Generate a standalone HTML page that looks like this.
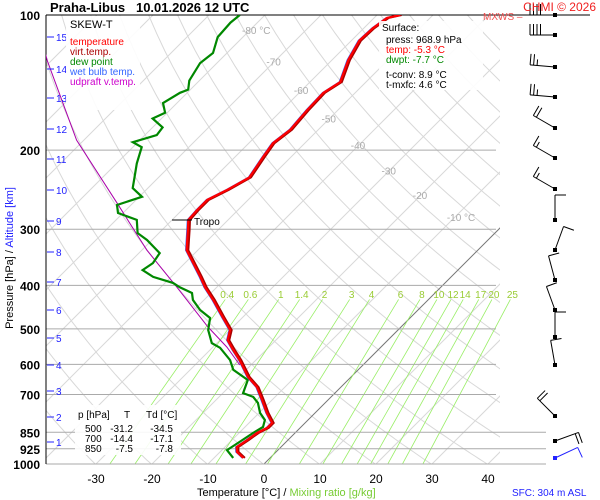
<!DOCTYPE html>
<html><head><meta charset="utf-8">
<style>
body{margin:0;background:#fff;}
svg{display:block;font-family:"Liberation Sans",Arial,sans-serif;}
</style></head>
<body>
<svg id="chart" width="600" height="500" viewBox="0 0 600 500">
<defs>
<clipPath id="plotclip"><rect x="46" y="15" width="454" height="449"/></clipPath>
<clipPath id="mixclip"><rect x="46" y="298" width="480" height="166"/></clipPath>
</defs>
<rect width="600" height="500" fill="#fff"/>
<g id="grid" clip-path="url(#plotclip)"></g>
<g id="mix" clip-path="url(#mixclip)"></g>
<g id="plines"></g>
<g id="series" clip-path="url(#plotclip)"></g>
<g id="labels"></g>
<g id="barbs"></g>

<text x="50" y="12" font-size="13" font-weight="bold">Praha-Libus &#160;&#160;10.01.2026 12 UTC</text>
<text x="596" y="11" font-size="12" fill="#f02020" text-anchor="end">CHMI © 2026</text>
<text x="483" y="20" font-size="10" fill="#f05050">MXWS –</text>

<g>
<rect x="66" y="16" width="74" height="94" fill="#fff" opacity="0.9"/>
<text x="70" y="28" font-size="11">SKEW-T</text>
<text x="70" y="45" font-size="10" fill="#f00">temperature</text>
<text x="70" y="55" font-size="10" fill="#a00">virt.temp.</text>
<text x="70" y="65" font-size="10" fill="#080">dew point</text>
<text x="70" y="75" font-size="10" fill="#3366ff">wet bulb temp.</text>
<text x="70" y="85" font-size="10" fill="#c0c">udpraft v.temp.</text>
</g>

<g>
<rect x="379" y="21" width="104" height="69" fill="#fff" opacity="0.9"/>
<text x="382" y="31" font-size="10">Surface:</text>
<text x="386" y="43" font-size="10">press: 968.9 hPa</text>
<text x="386" y="53" font-size="10" fill="#f00">temp: -5.3 °C</text>
<text x="386" y="63" font-size="10" fill="#080">dwpt: -7.7 °C</text>
<text x="386" y="78" font-size="10">t-conv: 8.9 °C</text>
<text x="386" y="88" font-size="10">t-mxfc: 4.6 °C</text>
</g>

<g>
<rect x="75" y="405" width="106" height="50" fill="#fff" opacity="0.9"/>
<text x="78" y="418" font-size="10">p [hPa]</text><text x="124" y="418" font-size="10">T</text><text x="146" y="418" font-size="10">Td [°C]</text>
<text x="85" y="432" font-size="10">500</text><text x="133" y="432" font-size="10" text-anchor="end">-31.2</text><text x="173" y="432" font-size="10" text-anchor="end">-34.5</text>
<text x="85" y="442" font-size="10">700</text><text x="133" y="442" font-size="10" text-anchor="end">-14.4</text><text x="173" y="442" font-size="10" text-anchor="end">-17.1</text>
<text x="85" y="452" font-size="10">850</text><text x="133" y="452" font-size="10" text-anchor="end">-7.5</text><text x="173" y="452" font-size="10" text-anchor="end">-7.8</text>
</g>

<line x1="172" y1="220" x2="192" y2="220" stroke="#000" stroke-width="1"/>
<text x="194" y="225" font-size="10">Tropo</text>

<g transform="translate(13,258) rotate(-90)">
<text x="0" y="0" font-size="11" text-anchor="middle"><tspan fill="#000">Pressure [hPa]</tspan><tspan fill="#000">  /  </tspan><tspan fill="#22f">Altitude [km]</tspan></text>
</g>
<text x="197" y="496" font-size="11"><tspan>Temperature [°C]  /  </tspan><tspan fill="#7c3">Mixing ratio [g/kg]</tspan></text>
<text x="512" y="496" font-size="10" fill="#22f">SFC: 304 m ASL</text>
</svg>
<script>
const pressureLevels=[100,200,300,400,500,600,700,850,925,1000];
const tempTicks=[-30,-20,-10,0,10,20,30,40];
const isoLabels=[-80,-70,-60,-50,-40,-30,-20,-10];
const altKm=[15,14,13,12,11,10,9,8,7,6,5,4,3,2,1];
const altY=[37,69,98,129,159,190,221,252,282,310,338,365,391,417,442];
const mixRatios=[0.4,0.6,1,1.4,2,3,4,6,8,10,12,14,17,20,25];
const tempP=[969,940,917,884,853,831,810,770,720,674,640,587,557,530,503,471,431,404,383,334,301,286,272,258,245,230,207,193,180,163,149,141,126,114,107,101.5,100];
const tempT=[-4.8,-7.0,-7.9,-7.3,-6.8,-5.9,-5.9,-8.6,-11.8,-15.0,-18.4,-22.9,-25.9,-28.6,-30.0,-33.6,-38.4,-42.1,-44.8,-52.0,-55.4,-57.1,-57.3,-57.3,-55.5,-53.8,-55.0,-55.7,-55.0,-55.5,-55.7,-54.6,-57.1,-58.6,-58.4,-57.7,-55.9];
const dewP=[969,931,898,853,827,798,770,731,709,695,650,617,587,551,538,503,473,454,431,416,404,395,383,370,357,339,317,306,286,276,265,254,243,230,214,197,192,185,178,170,165,157,149,146.6,140,128,121.5,112,104,100];
const dewT=[-6.6,-9.1,-8.4,-7.5,-6.8,-7.7,-9.8,-12.0,-13.9,-16.4,-17.9,-22.3,-24.6,-28.6,-30.9,-33.9,-35.7,-38.9,-42.0,-43.4,-46.6,-48.6,-53.2,-56.3,-55.7,-56.3,-60.9,-63.8,-66.3,-70.9,-72.5,-69.5,-72.7,-74.3,-76.4,-78.4,-80.9,-77.9,-78.2,-81.6,-80.4,-82.5,-81.3,-80.4,-81.8,-83.0,-82.5,-84.5,-84.8,-84.5];
const updP=[120,127,190,262,334,404,495,549,602];
const updT=[-113,-110.5,-91.3,-72.9,-59.1,-47.1,-34.5,-27.5,-22.0];
const barbY=[15,35,67,97,128,158,189,220,250,280,310,337,365,416,441,458];
const barbDir=[270,270,275,275,300,300,300,360,20,345,340,360,350,315,70,65];
const barbKt=[40,40,25,25,20,15,15,10,10,10,10,10,10,20,20,10];

const NS="http://www.w3.org/2000/svg";
function yP(p){return 464-449*Math.log10(1000/p);}
function xT(T,p){return 264+5.6*T+(464-yP(p));}
function mk(tag,attrs,parent){const e=document.createElementNS(NS,tag);for(const k in attrs)e.setAttribute(k,attrs[k]);parent.appendChild(e);return e;}
function pathFrom(ps,ts){let d="";for(let i=0;i<ps.length;i++){d+=(i?"L":"M")+xT(ts[i],ps[i]).toFixed(1)+","+yP(ps[i]).toFixed(1);}return d;}
const grid=document.getElementById('grid'),mix=document.getElementById('mix'),pl=document.getElementById('plines'),ser=document.getElementById('series'),lab=document.getElementById('labels'),barbs=document.getElementById('barbs');

for(let th=223;th<=503;th+=10){let d="";let first=true;for(let p=1050;p>=95;p-=10){const T=th*Math.pow(p/1000,0.286)-273.15;d+=(first?"M":"L")+xT(T,p).toFixed(1)+","+yP(p).toFixed(1);first=false;}
const e=mk('path',{d:d,fill:'none',stroke:'#d8d8d8','stroke-width':1},grid);

}
for(let T=-160;T<=40;T+=10){const e=mk('line',{x1:xT(T,1000),y1:yP(1000),x2:xT(T,100),y2:yP(100),stroke:T===0?'#777':'#d8d8d8','stroke-width':1},grid);

}
function tdFromW(w,p){const e=w*p/(622+w);const l=Math.log(e/6.112);return 243.5*l/(17.67-l);}
mixRatios.forEach(w=>{const p1=1000,p2=430;const e=mk('line',{x1:xT(tdFromW(w,p1),p1),y1:yP(p1),x2:xT(tdFromW(w,p2),p2),y2:yP(p2),stroke:'#9e6',"stroke-width":0.8},mix);


const t=mk('text',{x:xT(tdFromW(w,p2),p2)+2,y:298,'font-size':10,fill:'#9c3','text-anchor':'middle'},lab);t.textContent=w;

});
pressureLevels.forEach(p=>{const y=yP(p);const x2=p===100?590:(p>=850?546:496);
const e=mk('line',{x1:46,y1:y,x2:x2,y2:y,stroke:p===100?'#000':'#aaa','stroke-width':1},pl);


const t=mk('text',{x:40,y:y+5,'font-size':12,'font-weight':'bold','text-anchor':'end'},lab);t.textContent=p;

});
const ax=mk('line',{x1:46,y1:15,x2:46,y2:464,stroke:'#000'},pl);


tempTicks.forEach(T=>{const t=mk('text',{x:xT(T,1000),y:483,'font-size':12,'text-anchor':'middle'},lab);t.textContent=T;

});
isoLabels.forEach((T,i)=>{const p=[108,127,147,170,195,222,252,282][i];const t=mk('text',{x:xT(T,p)-8,y:yP(p)+4,'font-size':10,fill:'#aaa'},lab);t.textContent=T+((T===-80||T===-10)?' °C':'');

});
altKm.forEach((k,i)=>{const l=mk('line',{x1:47,y1:altY[i],x2:54,y2:altY[i],stroke:'#22f'},lab);


const t=mk('text',{x:56,y:altY[i]+4,'font-size':10,fill:'#22f'},lab);t.textContent=k;

});
const upd=mk('path',{d:pathFrom(updP,updT),fill:'none',stroke:'#a0a','stroke-width':1},ser);


const dew=mk('path',{d:pathFrom(dewP,dewT),fill:'none',stroke:'#080','stroke-width':2.2},ser);


const wb=mk('path',{d:pathFrom(tempP,tempT.map(t=>t-0.15)),fill:'none',stroke:'#3366ff','stroke-width':1.5},ser);


const vt=mk('path',{d:pathFrom(tempP,tempT.map(t=>t+0.3)),fill:'none',stroke:'#a00','stroke-width':2},ser);


const tc=mk('path',{d:pathFrom(tempP,tempT),fill:'none',stroke:'#f00','stroke-width':2.2},ser);


barbY.forEach((y,i)=>{const a=barbDir[i]*Math.PI/180;const ux=Math.sin(a),uy=-Math.cos(a);const fx=-uy,fy=ux;
const x0=555,L=25;const col=i===barbY.length-1?'#22f':'#000';
const g=mk('g',{},barbs);


mk('rect',{x:x0-2,y:y-2,width:4,height:4,fill:col},g);
mk('line',{x1:x0,y1:y,x2:x0+ux*L,y2:y+uy*L,stroke:col},g);
let kt=barbKt[i],pos=L;while(kt>=10){const bx=x0+ux*pos,by=y+uy*pos;mk('line',{x1:bx,y1:by,x2:bx+fx*11,y2:by+fy*11,stroke:col},g);pos-=3.5;kt-=10;}
if(kt>=5){const bx=x0+ux*pos,by=y+uy*pos;mk('line',{x1:bx,y1:by,x2:bx+fx*6,y2:by+fy*6,stroke:col},g);}
});
</script>
</body></html>
